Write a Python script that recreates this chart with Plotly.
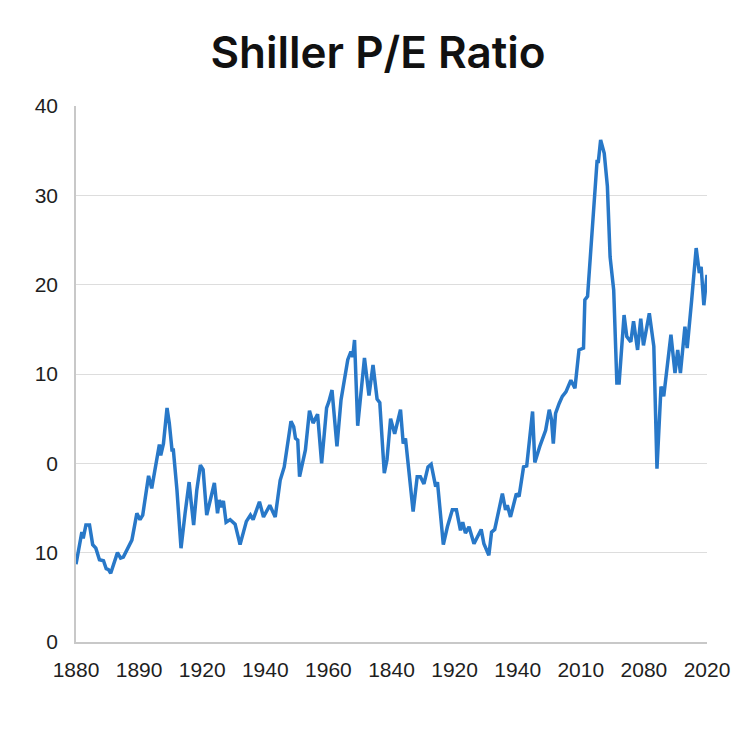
import plotly.graph_objects as go

years = [1880.0, 1880.7, 1881.3, 1881.6, 1882.2, 1883.0, 1883.7, 1884.4, 1885.2, 1886.1,
         1886.7, 1887.2, 1887.7, 1889.2, 1889.9, 1890.5, 1892.4, 1893.5, 1894.2, 1894.8,
         1896.1, 1896.8, 1897.6, 1898.5, 1898.8, 1899.4, 1900.2, 1900.7, 1901.3, 1901.6,
         1902.4, 1903.3, 1904.2, 1905.1, 1905.5, 1906.1, 1906.8, 1907.6, 1908.2, 1909.0,
         1910.7, 1911.4, 1911.8, 1912.2, 1912.7, 1913.3, 1914.2, 1915.3, 1916.4, 1917.8,
         1918.7, 1919.3, 1920.7, 1921.6, 1923.0, 1924.2, 1925.3, 1926.2, 1927.7, 1928.3,
         1928.7, 1929.2, 1929.6, 1930.9, 1931.8, 1932.6, 1933.6, 1934.5, 1935.6, 1936.1,
         1936.8, 1937.9, 1938.8, 1940.3, 1941.0, 1941.4, 1941.8, 1942.5, 1944.0, 1945.0,
         1945.9, 1946.8, 1947.4, 1948.4, 1949.0, 1949.8, 1950.7, 1952.0, 1952.6, 1953.1,
         1954.8, 1955.7, 1956.4, 1957.2, 1958.1, 1958.8, 1959.8, 1960.2, 1961.5, 1962.4,
         1963.5, 1964.4, 1965.3, 1965.8, 1966.4, 1967.2, 1968.3, 1969.9, 1970.5, 1971.6,
         1972.2, 1972.9, 1974.6, 1975.3, 1975.7, 1976.4, 1977.7, 1978.3, 1979.3, 1980.0,
         1981.3, 1981.8, 1982.9, 1983.7, 1984.2, 1985.0, 1985.5, 1985.9, 1986.4, 1987.2,
         1987.9, 1988.7, 1989.8, 1990.7, 1991.6, 1992.6, 1992.9, 1993.5, 1994.2, 1994.6,
         1995.6, 1995.9, 1996.4, 1997.2, 1997.9, 1998.5, 1999.3, 2000.0, 2000.5, 2001.6,
         2002.2, 2003.1, 2003.7, 2004.6, 2005.3, 2005.9, 2007.2, 2008.2, 2008.9, 2009.8,
         2010.4, 2012.0, 2012.9, 2013.5, 2014.1, 2015.1, 2015.6, 2016.6, 2017.6, 2018.3,
         2018.7, 2019.3, 2020.0]

pe_ratio = [-11.3, -9.3, -7.7, -8.4, -6.9, -6.9, -9.1, -9.5, -10.8, -10.9,
            -11.8, -11.9, -12.3, -10.0, -10.6, -10.5, -8.6, -5.6, -6.3, -5.8,
            -1.4, -2.8, -0.6, 2.1, 0.9, 2.2, 6.2, 4.5, 1.5, 1.5,
            -3.0, -9.5, -5.6, -2.1, -4.1, -6.9, -3.0, -0.2, -0.7, -5.8,
            -2.2, -5.6, -4.1, -4.9, -4.2, -6.6, -6.3, -6.8, -9.1, -6.5,
            -5.8, -6.3, -4.3, -6.0, -4.7, -6.0, -1.9, -0.4, 4.7, 4.1,
            2.8, 2.6, -1.5, 1.5, 5.9, 4.5, 5.5, 0.0, 6.2, 6.9,
            8.2, 1.9, 7.1, 11.6, 12.5, 11.9, 13.8, 4.2, 11.8, 7.6,
            11.0, 7.2, 6.8, -1.1, 0.4, 5.0, 3.3, 6.0, 2.2, 2.8,
            -5.4, -1.5, -1.5, -2.3, -0.4, -0.1, -2.6, -2.1, -9.1, -7.1,
            -5.2, -5.2, -7.5, -6.6, -7.8, -7.1, -9.0, -7.4, -9.0, -10.3,
            -7.7, -7.4, -3.4, -5.2, -4.7, -6.0, -3.4, -3.7, -0.4, -0.3,
            5.8, 0.1, 1.9, 3.2, 3.7, 6.0, 4.9, 2.2, 5.6, 6.7,
            7.5, 8.0, 9.3, 8.4, 12.7, 12.9, 18.3, 18.7, 24.2, 26.1,
            33.8, 33.8, 36.2, 34.7, 31.0, 23.1, 19.4, 9.0, 9.0, 16.6,
            14.2, 13.6, 15.9, 12.7, 16.2, 13.2, 16.8, 13.1, -0.6, 8.6,
            7.5, 14.4, 10.1, 12.7, 10.1, 15.3, 12.9, 18.3, 24.1, 21.3,
            22.0, 17.7, 21.1]

x_tick_vals = [1880, 1894, 1908, 1922, 1936, 1950, 1964, 1978, 1992, 2006, 2020]
x_tick_text = ["1880", "1890", "1920", "1940", "1960", "1840", "1920", "1940", "2010", "2080", "2020"]
y_tick_vals = [-20, -10, 0, 10, 20, 30, 40]
y_tick_text = ["0", "10", "0", "10", "20", "30", "40"]

tick_font = dict(family="Liberation Sans, Arial, sans-serif", size=21, color="#1e1e1e")

fig = go.Figure()
fig.add_trace(go.Scatter(
    x=years, y=pe_ratio, mode="lines",
    line=dict(color="#2878c8", width=3.5),
    hoverinfo="skip", showlegend=False,
))

fig.update_layout(
    width=740, height=740,
    paper_bgcolor="white", plot_bgcolor="white",
    margin=dict(l=68, r=41, t=98, b=106),
    title=dict(text="Shiller P/E Ratio", x=0.5, xanchor="center", y=0.94, yanchor="middle",
               font=dict(family="Inter, Roboto, sans-serif", size=44, color="#111111", weight=600)),
    font=dict(family="Liberation Sans, Arial, sans-serif", size=21, color="#1e1e1e"),
)
fig.update_xaxes(
    range=[1880, 2020], tickvals=x_tick_vals, ticktext=x_tick_text,
    showgrid=False, zeroline=False, showline=True, linecolor="#c8c8c8", linewidth=1.5,
    ticks="", tickfont=tick_font, ticklabelstandoff=8,
)
fig.update_yaxes(
    range=[-20, 40], tickvals=y_tick_vals, ticktext=y_tick_text,
    showgrid=True, gridcolor="#dddddd", gridwidth=1, zeroline=False,
    showline=True, linecolor="#c8c8c8", linewidth=1.5,
    ticks="", tickfont=tick_font, ticklabelstandoff=12,
)

fig.write_html("out.html")
